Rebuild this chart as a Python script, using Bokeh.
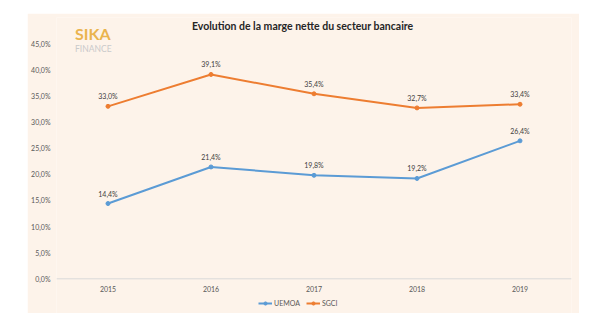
from bokeh.plotting import figure
from bokeh.models import Range1d, FixedTicker, Label, Legend, LegendItem, Span
from bokeh.embed import file_html
from bokeh.resources import INLINE
from bokeh.core.properties import value

years = [2015, 2016, 2017, 2018, 2019]
uemoa = [14.4, 21.4, 19.8, 19.2, 26.4]
sgci = [33.0, 39.1, 35.4, 32.7, 33.4]
uemoa_labels = ["14,4%", "21,4%", "19,8%", "19,2%", "26,4%"]
sgci_labels = ["33,0%", "39,1%", "35,4%", "32,7%", "33,4%"]
y_ticks = [0, 5, 10, 15, 20, 25, 30, 35, 40, 45]
y_tick_labels = ["0,0%", "5,0%", "10,0%", "15,0%", "20,0%", "25,0%", "30,0%", "35,0%", "40,0%", "45,0%"]
x_tick_labels = ["2015", "2016", "2017", "2018", "2019"]
title_text = "Evolution de la marge nette du secteur bancaire"

BEIGE = "#FDF3EA"
BLUE = "#5B9BD5"
ORANGE = "#ED7D31"
FONT = "Lato"

p = figure(frame_width=515, frame_height=296, output_backend="svg", toolbar_location=None,
           x_range=Range1d(2014.5, 2019.5), y_range=Range1d(-6.64, 50),
           x_axis_location=None,
           min_border_left=29, min_border_right=8, min_border_top=4, min_border_bottom=0,
           background_fill_color=BEIGE, border_fill_color=BEIGE, outline_line_color=None)
p.margin = (13, 21, 10, 27)

p.grid.visible = False

p.yaxis.ticker = FixedTicker(ticks=y_ticks)
p.yaxis.major_label_overrides = {t: l for t, l in zip(y_ticks, y_tick_labels)}
p.yaxis.axis_line_color = None
p.yaxis.major_tick_line_color = None
p.yaxis.minor_tick_line_color = None
p.yaxis.major_tick_out = 0
p.yaxis.major_tick_in = 0
p.yaxis.major_label_text_font = FONT
p.yaxis.major_label_text_font_size = "7px"
p.yaxis.major_label_text_color = "#595959"
p.yaxis.major_label_standoff = 6

# category axis line and labels
p.add_layout(Span(location=0, dimension="width", line_color="#D9D9D9", line_width=1))
p.text(x=years, y=[0] * len(years), text=x_tick_labels, y_offset=10, text_align="center",
       text_baseline="middle", text_font=value(FONT), text_font_size="7px",
       text_color="#595959")

l1 = p.line(years, uemoa, line_color=BLUE, line_width=2)
s1 = p.scatter(years, uemoa, size=4, fill_color=BLUE, line_color=BLUE)
l2 = p.line(years, sgci, line_color=ORANGE, line_width=2)
s2 = p.scatter(years, sgci, size=4, fill_color=ORANGE, line_color=ORANGE)

for vals, labs in ((uemoa, uemoa_labels), (sgci, sgci_labels)):
    p.text(x=years, y=vals, text=labs, y_offset=-6, text_align="center",
           text_baseline="bottom", text_font=value(FONT), text_font_size="7px",
           text_color="#404040")

p.add_layout(Label(x=2016.89, y=48.28, text=title_text, text_font=FONT, text_font_size="10.5px",
                   text_font_style="bold", text_color="#262626", text_align="center",
                   text_baseline="middle"))
p.add_layout(Label(x=2014.68, y=46.85, text="SIKA", text_font=FONT, text_font_size="16px",
                   text_font_style="bold", text_color="#EAB44E", text_baseline="middle"))
p.add_layout(Label(x=2014.68, y=44.0, text="FINANCE", text_font=FONT, text_font_size="8.5px",
                   text_color="#CACACA", text_baseline="middle"))

legend = Legend(items=[LegendItem(label="UEMOA", renderers=[l1, s1]),
                       LegendItem(label="SGCI", renderers=[l2, s2])],
                orientation="horizontal", location=(202, 6),
                background_fill_alpha=0, border_line_color=None,
                label_text_font=FONT, label_text_font_size="7px", label_text_color="#595959",
                glyph_width=14, glyph_height=8, spacing=6, padding=1, margin=0,
                label_standoff=2, label_height=8)
p.add_layout(legend, "center")

open("out.html", "w").write(file_html(p, INLINE))
